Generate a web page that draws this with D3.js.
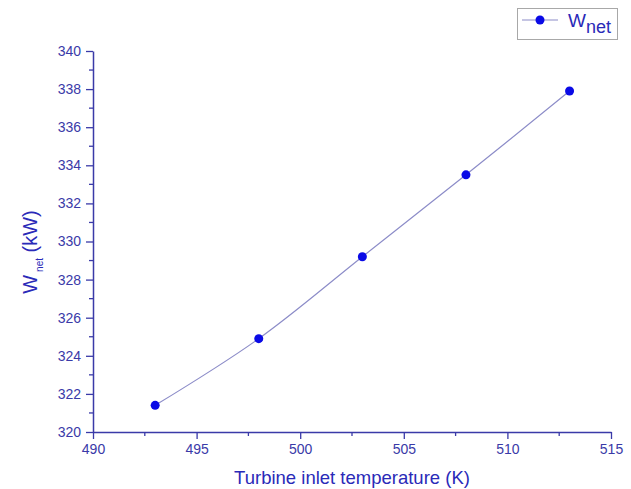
<!DOCTYPE html>
<html><head><meta charset="utf-8">
<script src="https://cdn.jsdelivr.net/npm/d3@7"></script>
<style>body{margin:0;background:#fff;} text{font-family:"Liberation Sans",Arial,sans-serif;}</style>
</head><body>
<svg id="c" width="631" height="489"></svg>
<script>
const temps = [493, 498, 503, 508, 513];
const wnet = [321.4, 324.9, 329.2, 333.5, 337.9];
const xTicks = [490, 495, 500, 505, 510, 515];
const yTicks = [320, 322, 324, 326, 328, 330, 332, 334, 336, 338, 340];
const seriesName = "W";
const seriesSub = "net";

const svg = d3.select("#c");
const axisColor = "#3a3aa8";
const textColor = "#2a2ab8";
const x = d3.scaleLinear().domain([490, 515]).range([93, 611]);
const y = d3.scaleLinear().domain([320, 340]).range([432, 51]);

const xMinor = d3.range(490, 515.01, 2.5).filter(v => !xTicks.includes(v));
const yMinor = d3.range(321, 340, 2);

const gx = svg.append("g").attr("transform", "translate(0,432)")
  .call(d3.axisBottom(x).tickValues(xTicks).tickSize(7).tickSizeOuter(0).tickPadding(5));
gx.selectAll("line.minor").data(xMinor).enter().append("line").attr("class","minor")
  .attr("x1", d => x(d)).attr("x2", d => x(d)).attr("y1", 0).attr("y2", 4);
const gy = svg.append("g").attr("transform", "translate(93,0)")
  .call(d3.axisLeft(y).tickValues(yTicks).tickSize(7).tickSizeOuter(0).tickPadding(5));
gy.selectAll("line.minor").data(yMinor).enter().append("line").attr("class","minor")
  .attr("y1", d => y(d)).attr("y2", d => y(d)).attr("x1", 0).attr("x2", -4);

[gx, gy].forEach(g => {
  g.select(".domain").attr("stroke", axisColor).attr("stroke-width", 1.5);
  g.selectAll("line").attr("stroke", axisColor).attr("stroke-width", 1.3);
  g.selectAll("text").attr("fill", axisColor).attr("font-size", 14).attr("font-family", "Liberation Sans, Arial, sans-serif");
});

const data = temps.map((t, i) => ({t, w: wnet[i]}));
const line = d3.line().x(d => x(d.t)).y(d => y(d.w)).curve(d3.curveCatmullRom);
svg.append("path").datum(data).attr("d", line)
  .attr("fill", "none").attr("stroke", "#8c8cc8").attr("stroke-width", 1.2);
svg.selectAll("circle.pt").data(data).enter().append("circle").attr("class","pt")
  .attr("cx", d => x(d.t)).attr("cy", d => y(d.w)).attr("r", 4.5).attr("fill", "#0a0ae6");

// axis titles
svg.append("text").attr("x", 352).attr("y", 484).attr("text-anchor", "middle")
  .attr("fill", textColor).attr("font-size", 18.5).text("Turbine inlet temperature (K)");
const yl = svg.append("text").attr("transform", "translate(37,252) rotate(-90)")
  .attr("text-anchor", "middle").attr("fill", textColor).attr("font-size", 20);
yl.append("tspan").text(seriesName);
yl.append("tspan").attr("font-size", 10).attr("dy", 6).attr("dx", 3).text(seriesSub);
yl.append("tspan").attr("dy", -6).text(" (kW)");

// legend
const lg = svg.append("g");
lg.append("rect").attr("x", 517.5).attr("y", 8.5).attr("width", 100).attr("height", 31)
  .attr("fill", "#fff").attr("stroke", "#a8a8a8").attr("stroke-width", 1);
lg.append("line").attr("x1", 522).attr("x2", 558).attr("y1", 20).attr("y2", 20)
  .attr("stroke", "#8c8cc8").attr("stroke-width", 1.2);
lg.append("circle").attr("cx", 540).attr("cy", 20).attr("r", 4.5).attr("fill", "#0a0ae6");
const lt = lg.append("text").attr("x", 568).attr("y", 27).attr("fill", textColor).attr("font-size", 19);
lt.append("tspan").text(seriesName);
lt.append("tspan").attr("dy", 6).attr("font-size", 18).text(seriesSub);
</script>
</body></html>
